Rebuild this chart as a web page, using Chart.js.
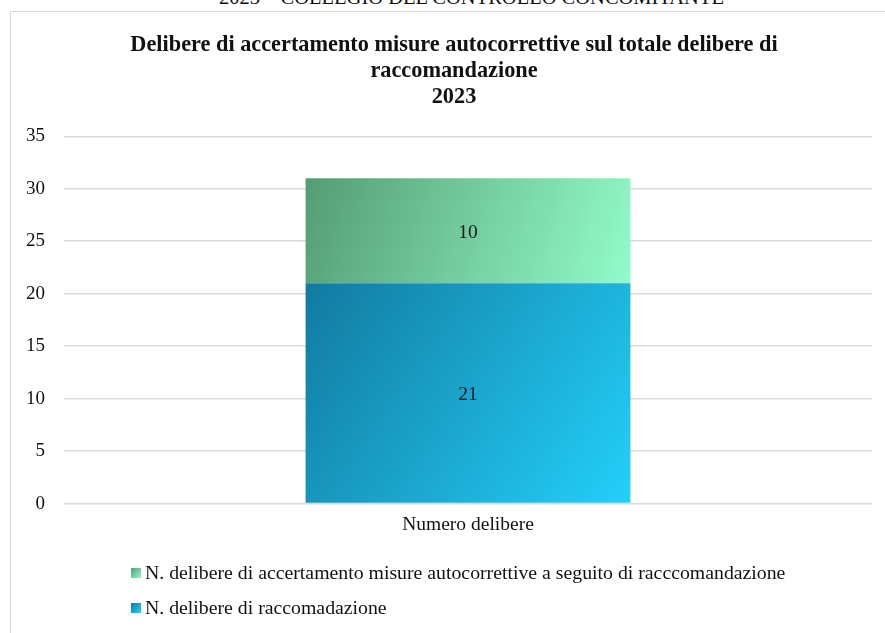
<!DOCTYPE html>
<html>
<head>
<meta charset="utf-8">
<script src="https://cdn.jsdelivr.net/npm/chart.js@4.4.1/dist/chart.umd.min.js"></script>
<style>
  html, body { margin:0; padding:0; background:#fff; width:885px; height:633px; overflow:hidden; font-family:"Liberation Serif", "Times New Roman", serif; }
  #header { position:absolute; left:29px; width:885px; top:-12px; text-align:center; font-size:20.5px; line-height:19px; color:#111; white-space:nowrap; }
  #frame { position:absolute; left:10px; top:11px; width:900px; height:700px; border:1px solid #d9d9d9; box-sizing:border-box; }
  #wrap { position:absolute; left:0; top:0; width:885px; height:633px; }
  #legend { position:absolute; left:131px; top:560px; font-size:19.8px; color:#111; }
  .item { position:relative; height:35px; line-height:24px; white-space:nowrap; }
  .box { display:inline-block; width:10px; height:10px; margin-right:4px; vertical-align:1px; }
</style>
</head>
<body>
<div id="header">2023 – COLLEGIO DEL CONTROLLO CONCOMITANTE</div>
<div id="frame"></div>
<div id="wrap"><canvas id="c" width="885" height="633"></canvas></div>
<div id="legend"></div>
<script>
const categories = ['Numero delibere'];
const raccomandazione = [21];
const accertamento = [10];
const seriesLabels = [
  'N. delibere di raccomadazione',
  'N. delibere di accertamento misure autocorrettive a seguito di racccomandazione'
];
const titleLines = [
  'Delibere di accertamento misure autocorrettive sul totale delibere di',
  'raccomandazione',
  '2023'
];
const yMin = 0, yMax = 35, yStep = 5;

const blueStops = ['#127a9f', '#23d0fa'];
const greenStops = ['#559d74', '#92fbca'];
const BAR_PCT = 0.402;
const FONT = '"Liberation Serif", "Times New Roman", serif';

function barGradient(ctx, stops) {
  const chart = ctx.chart;
  const sx = chart.scales.x, sy = chart.scales.y;
  if (!sx || !sy || !chart.chartArea || ctx.type !== 'data') return stops[1];
  const i = ctx.dataIndex, d = ctx.datasetIndex;
  let start = 0;
  for (let k = 0; k < d; k++) start += chart.data.datasets[k].data[i];
  const end = start + chart.data.datasets[d].data[i];
  const cx = sx.getPixelForValue(i);
  const half = (sx.width / chart.data.labels.length) * BAR_PCT / 2;
  const top = sy.getPixelForValue(end), bottom = sy.getPixelForValue(start);
  const g = chart.ctx.createLinearGradient(cx - half, top, cx + half, bottom);
  g.addColorStop(0, stops[0]);
  g.addColorStop(1, stops[1]);
  return g;
}

const valueLabels = {
  id: 'valueLabels',
  afterDatasetsDraw(chart) {
    const c = chart.ctx;
    c.save();
    c.font = '19.5px ' + FONT;
    c.fillStyle = '#1a1a1a';
    c.textAlign = 'center';
    c.textBaseline = 'middle';
    chart.data.datasets.forEach((ds, di) => {
      const meta = chart.getDatasetMeta(di);
      meta.data.forEach((el, i) => {
        const p = el.getCenterPoint();
        c.fillText(String(ds.data[i]), p.x, p.y + 2);
      });
    });
    c.restore();
  }
};

const shiftTitle = {
  id: 'shiftTitle',
  afterLayout(chart) {
    if (chart.titleBlock) { chart.titleBlock.left = 36; }
  }
};

new Chart(document.getElementById('c'), {
  type: 'bar',
  data: {
    labels: categories,
    datasets: [
      { label: seriesLabels[0], data: raccomandazione, backgroundColor: (ctx) => barGradient(ctx, blueStops), borderWidth: 0 },
      { label: seriesLabels[1], data: accertamento, backgroundColor: (ctx) => barGradient(ctx, greenStops), borderWidth: 0 }
    ]
  },
  options: {
    responsive: false,
    animation: false,
    devicePixelRatio: 1,
    layout: { padding: { left: 0, right: 13, top: 0, bottom: 86 } },
    datasets: { bar: { barPercentage: BAR_PCT, categoryPercentage: 1 } },
    plugins: {
      legend: { display: false },
      tooltip: { enabled: false },
      title: {
        display: true,
        text: titleLines,
        color: '#111',
        font: { family: FONT, size: 22.3, weight: 'bold', lineHeight: 1.17 },
        padding: { top: 32, bottom: 26 }
      }
    },
    scales: {
      x: {
        stacked: true,
        grid: { display: false, drawTicks: false },
        border: { display: false },
        ticks: { color: '#111', font: { family: FONT, size: 19.5 }, padding: 10 }
      },
      y: {
        stacked: true,
        min: yMin, max: yMax,
        afterFit(s) { s.width = 64; },
        grid: { color: '#d9d9d9', lineWidth: 1.5, drawTicks: false },
        border: { display: false },
        ticks: { stepSize: yStep, color: '#111', font: { family: FONT, size: 19 }, padding: 19 }
      }
    }
  },
  plugins: [valueLabels, shiftTitle]
});

const legendEl = document.getElementById('legend');
[[seriesLabels[1], greenStops], [seriesLabels[0], blueStops]].forEach(([txt, st]) => {
  const d = document.createElement('div');
  d.className = 'item';
  const b = document.createElement('span');
  b.className = 'box';
  b.style.background = 'linear-gradient(135deg,' + st[0] + ',' + st[1] + ')';
  d.appendChild(b);
  d.appendChild(document.createTextNode(txt));
  legendEl.appendChild(d);
});
</script>
</body>
</html>
